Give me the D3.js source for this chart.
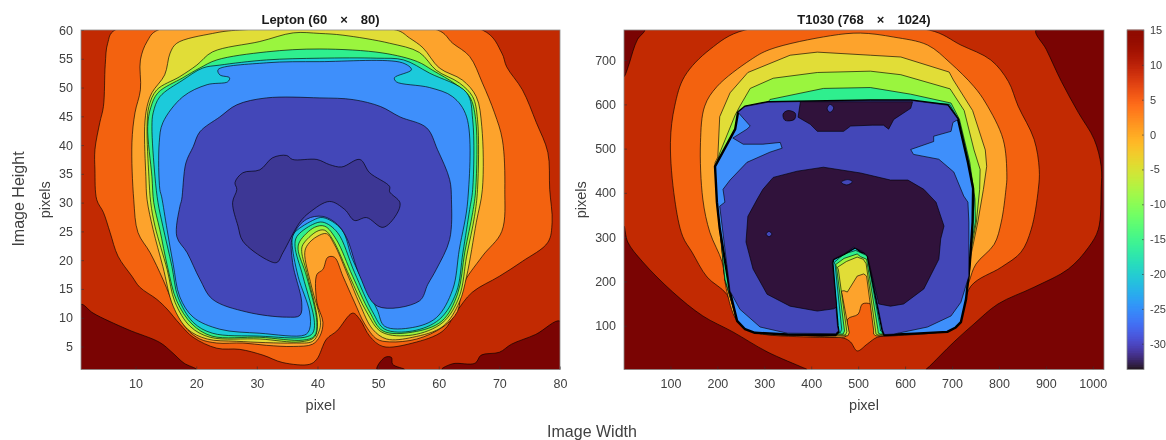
<!DOCTYPE html>
<html><head><meta charset="utf-8">
<script src="https://cdn.jsdelivr.net/npm/d3@7"></script>
<style>html,body{margin:0;padding:0;background:#fff;overflow:hidden}svg{display:block;font-family:"Liberation Sans",Arial,sans-serif;filter:blur(0.45px)}</style>
</head><body><svg id="c" width="1166" height="440"></svg>
<script>
const colorRed="#c22a02",colorDark="#7a0403",colorOrange="#f3620f",colorLightOrange="#fda32c",colorYellow="#e1dd37",colorLime="#9af53e",colorMint="#2fef8e",colorCyan="#1ccadb",colorBlue="#3e8ffb",colorIndigo="#4347b8",colorDeepIndigo="#3d3795",colorDarkest="#30123b";
const xTicksLeft=[10,20,30,40,50,60,70,80], yTicksLeft=[5,10,15,20,25,30,35,40,45,50,55,60];
const xTicksRight=[100,200,300,400,500,600,700,800,900,1000], yTicksRight=[100,200,300,400,500,600,700];
const barTicks=[-30,-25,-20,-15,-10,-5,0,5,10,15];
const leftDarkA=[[1,12.3],[3,10.8],[8.6,8],[14,5.7],[16,4],[18,2.1],[20,1],[1,1]];
const leftDarkB=[[60.5,1],[62.3,2],[66,2.1],[67,3.5],[70,4],[72,5.4],[76,7.1],[80,9.4],[80,1]];
const leftDarkC=[[49.8,1],[51.1,3.1],[52.2,3.1],[52.4,1.9],[54.4,1]];
const leftOrange=[[6.6,60],[5.4,57.7],[5,54],[4.7,46.7],[4.1,43.9],[3.3,39.2],[3.3,35.7],[3.6,30.5],[4.7,28.3],[5.8,24.8],[7.1,20.7],[9.4,17.2],[10.7,15.3],[13.5,13.2],[15.2,11.5],[17.3,8.9],[19.5,6.6],[23.4,4.7],[27.2,4.5],[31,3.5],[34.3,2.2],[38.7,1.9],[39.9,2.8],[41.5,6.3],[43.2,7.7],[45.8,10.8],[47,9.7],[48.6,6.8],[50.8,5],[55.7,5.6],[60.7,7.7],[62.9,11],[65.5,14.4],[70,17.2],[73.8,19.8],[78,23.1],[78.7,26.6],[78.3,32.3],[78,38.7],[76.1,43.9],[73.8,49.6],[71.2,53.6],[70.4,56],[67.2,60]];
const leftLightOrange=[[13.7,60],[11.9,58],[10.8,54.8],[10.8,49.6],[9.9,45.6],[9.4,40.4],[9.7,30.5],[10.4,24.8],[12.4,21.3],[14.5,16.7],[16.8,11],[18.5,8],[20.6,6.3],[23.4,5.6],[27.7,5.6],[31.6,5.2],[36,5],[39.2,5.4],[40.4,6.8],[40.9,9.2],[39.9,12.7],[39.9,17.5],[40.9,18.4],[41.7,20.5],[42.8,20.5],[44.2,17.2],[46.1,12.7],[47.8,8.9],[49.8,6.3],[51.9,5.8],[56.4,6.3],[60.7,8.4],[63.1,11.1],[63.9,15.5],[67.2,20.7],[70.4,25],[70.9,32.3],[70.5,40.9],[69.2,45.6],[67.2,50.8],[65.1,55.4],[62.3,57.7],[59.8,60]];
const leftYellow=[[27.2,60],[22.7,59.4],[16.8,57.7],[15.7,56],[14.8,52.2],[12.7,49.1],[11.9,46.7],[11.5,43.2],[11.7,34.5],[11.9,30.5],[12.9,25.3],[14.5,18.9],[16.2,12],[18.6,8],[21.8,6.3],[26.7,5.9],[36,5.6],[39.2,5.9],[40.2,7.5],[40.5,9.2],[39,15.5],[37.9,21.3],[38.4,22.7],[39.9,24.1],[41.5,24.6],[42.8,22.7],[44.8,17.9],[47,12.3],[49.1,8],[51.4,6.3],[55.7,6.6],[60.7,8.5],[63.4,12.7],[64.6,17.2],[66.2,26.6],[67.2,32.3],[67.1,43.2],[66.2,48.4],[63.9,51.3],[60.1,53.4],[57.4,56.9],[55.2,58.6],[53,60]];
const leftLime=[[40.4,59.4],[36,59.5],[30.5,58],[22.7,56.2],[20.1,53.9],[17.3,51.9],[13.5,49.6],[12.2,46.7],[11.9,43.2],[12.2,34.5],[12.5,30],[13.2,25.9],[15.2,18.4],[16.5,12.7],[19,8.5],[22.3,6.6],[30.5,6.3],[37.1,5.8],[39.5,6.6],[40,9.2],[38.4,17.2],[37.4,21.5],[37.6,22.7],[39.9,25],[41.2,25.2],[42.5,23.6],[45.3,17.2],[48.1,11],[50.6,7.5],[55.7,7],[60.7,9.2],[63.4,13.7],[64.6,20.7],[65.9,27.6],[66.4,32.3],[66.4,44.4],[65.6,48.4],[63.4,50.8],[59.6,53],[56.8,56.1],[51.9,57.7],[44.2,59.1]];
const leftMint=[[40.4,56.7],[31.6,56.2],[23.4,54.8],[20.6,53.4],[17.8,51.7],[13.7,49.1],[12.5,46.5],[12,43.2],[12.7,34.5],[13,30],[14,25.3],[15.3,18.7],[16.8,12.9],[19.3,8.9],[22.6,6.8],[30.5,6.6],[37.6,6.1],[39.5,6.8],[39.9,9.2],[38.2,17.2],[36.8,21.9],[37.1,23.3],[39.5,25.7],[41.2,25.9],[43.1,23.6],[45.8,17.2],[48.6,11],[50.8,7.7],[55.7,7.5],[60.5,9.4],[63.1,14.1],[64.3,21.4],[65.6,28.3],[66.1,32.3],[66.1,44.4],[65.1,48.4],[62.9,50.5],[59,53],[56.5,54.5],[50.8,56]];
const leftCyan=[[40.4,55.1],[31.6,54.8],[23.9,53.9],[21.1,53.4],[17.8,51.3],[14,48.4],[12.9,45.6],[12.7,43.2],[13.2,34.5],[13.7,30],[14.5,25.9],[16,18.9],[17,13.6],[19.5,9.2],[22.7,7.3],[30.5,6.8],[37.9,6.6],[39.2,7.3],[39.5,9.2],[37.6,17.2],[36.3,22.4],[36.6,24.1],[39.2,26.2],[40.9,26.6],[43.3,24.8],[46.1,17.9],[49.1,11],[51.1,8],[55.7,7.7],[60.1,9.7],[62.9,14.4],[64,21.4],[65.1,28.8],[65.6,32.3],[65.6,44.4],[64.6,49.1],[58.5,52.5],[54.2,54.8],[49.8,55.1]];
const leftBlue=[[40.4,54.5],[31.6,54.3],[23.6,53.1],[23.9,52.2],[25.5,51.7],[25.2,51],[21.8,50.5],[17.8,48.4],[14.5,43.9],[13.9,40.4],[14,32.3],[14.3,31],[15.2,25.3],[16.2,19.3],[17.3,13.6],[19.5,10.1],[23.9,8],[30.5,7.3],[37.9,7],[38.7,8],[38.7,11],[36.8,17.2],[35.8,23.1],[36,24.5],[39.2,26.9],[40.9,27.4],[44,25.3],[45.8,20.1],[49.8,11.5],[51.1,8.5],[55.7,8.3],[59.6,10],[62.3,14.9],[63.4,21.9],[64.8,30.5],[64.6,44.9],[62.3,48.4],[58.5,50],[53,51],[52.7,51.7],[55.5,53.1],[54,54.3]];
const leftIndigo=[[40.4,48.2],[31.6,48.2],[26.7,47],[23.9,44.9],[20.6,42.3],[19.5,39.7],[18.3,36.9],[17.6,30.5],[17.3,29.3],[16.8,24.1],[18.5,21.3],[20.6,16.7],[22.7,13.2],[28.3,11],[34.9,10.1],[37.1,10.4],[37.4,12.7],[35.9,19.6],[35.9,24.1],[38.2,27.1],[40.9,27.6],[43.3,26.2],[44.8,23.9],[47,17.2],[49.9,12],[56.8,12.9],[58.2,15.8],[59.6,18.4],[61.8,23.6],[62.1,30.5],[61.8,34],[59.8,39.2],[58,43],[53.6,44.9],[50.4,46.7],[45.9,47.9]];
const leftDeepIndigo=[[32.6,37.8],[34.9,38.2],[35.9,37.5],[39.9,37.5],[42,36.6],[44,36.2],[47,37.5],[48.6,35.2],[51.9,32.8],[51.9,31.9],[53.6,30],[53,27.9],[50.8,25.7],[48.1,27.4],[46.1,26.9],[44.5,28.8],[42,30.2],[38.7,28.3],[37.1,26.6],[34.3,21.3],[33.3,19.6],[31.6,20.1],[27.7,23.3],[26.9,25.9],[26,30],[26.7,32.3],[26.4,33.5],[27.7,35.2],[30.5,35.7]];

const rightDarkA=[[1,768],[45,768],[30,747],[20,720],[13,695],[1,663]];
const rightDarkB=[[1,325],[9,289],[41,244],[105,176],[169,122],[233,86],[306,41],[383,5],[391,1],[1,1]];
const rightDarkC=[[879,768],[901,724],[933,652],[969,582],[1003,521],[1018,460],[1018,408],[1012,318],[991,277],[948,228],[875,187],[798,149],[747,104],[704,63],[651,7],[645,1],[1024,1],[1024,768]];
const rightOrange=[[259,768],[184,724],[130,663],[109,596],[100,514],[109,386],[126,302],[146,266],[178,210],[220,171],[242,111],[276,86],[398,74],[469,72],[484,63],[498,43],[520,59],[541,74],[576,77],[676,86],[712,99],[740,189],[805,232],[847,266],[869,318],[884,408],[886,453],[875,521],[841,596],[820,652],[783,700],[719,734],[651,768]];
const rightLightOrange=[[441,755],[312,724],[270,700],[199,640],[173,596],[164,514],[169,386],[184,311],[210,244],[219,183],[241,113],[276,86],[398,77],[469,74],[474,76],[479,84],[478,115],[500,126],[509,149],[526,149],[531,140],[537,90],[537,81],[543,79],[575,79],[676,88],[708,101],[736,198],[751,239],[790,284],[805,334],[815,408],[817,438],[809,521],[772,603],[747,640],[696,694],[648,734],[576,752],[505,761]];
const rightYellow=[[526,711],[413,718],[355,711],[265,672],[227,626],[205,572],[201,481],[195,468],[201,370],[216,205],[241,113],[276,88],[398,77],[462,77],[478,77],[481,84],[466,170],[464,178],[470,179],[477,176],[498,212],[512,217],[518,212],[533,90],[533,81],[538,77],[548,77],[676,88],[708,104],[736,205],[740,257],[755,334],[767,408],[774,460],[771,497],[744,586],[703,655],[694,673],[591,707]];
const rightLime=[[526,675],[413,672],[319,659],[270,636],[248,596],[238,576],[205,490],[199,468],[201,370],[216,205],[241,115],[276,90],[398,79],[450,79],[473,79],[476,86],[458,226],[456,232],[475,245],[498,255],[511,250],[517,240],[537,90],[538,81],[543,79],[676,90],[708,106],[735,210],[738,257],[752,334],[759,408],[760,453],[747,497],[726,586],[696,635],[591,667]];
const rightMint=[[526,638],[426,636],[312,611],[308,605],[259,595],[244,582],[238,544],[195,460],[199,379],[216,205],[241,117],[276,92],[398,81],[445,81],[468,81],[471,88],[454,232],[452,238],[470,252],[498,262],[505,256],[518,250],[542,92],[543,83],[548,81],[676,92],[708,108],[733,210],[736,257],[750,334],[749,386],[738,469],[716,566],[698,603],[612,623]];
const rightCyan=[[308,604],[259,595],[244,582],[238,544],[197,460],[200,379],[222,205],[246,120],[278,95],[398,83],[442,84],[462,84],[465,92],[451,238],[449,243],[470,262],[495,270],[519,258],[547,95],[548,88],[553,83],[676,95],[706,113],[730,210],[732,257],[744,334],[748,386],[736,469],[714,566],[695,600],[610,607]];
const rightBlue=[[259,595],[308,605],[526,609],[612,609],[691,598],[713,566],[734,469],[745,410],[744,334],[738,240],[730,160],[719,108],[708,96],[690,86],[620,82],[556,79],[552,90],[520,262],[505,268],[494,277],[470,262],[447,250],[445,242],[456,100],[458,86],[452,79],[350,80],[280,84],[259,92],[242,111],[227,176],[205,320],[199,379],[195,460],[238,544],[244,582]];
const rightIndigo=[[259,595],[308,605],[526,609],[612,609],[691,598],[713,566],[702,559],[698,539],[661,528],[661,516],[612,498],[618,487],[672,476],[704,447],[725,393],[734,379],[736,334],[736,212],[719,153],[698,122],[648,97],[576,81],[556,80],[552,90],[520,262],[505,268],[494,277],[470,262],[447,250],[445,242],[456,100],[458,88],[452,82],[349,83],[291,97],[248,137],[227,178],[205,370],[216,379],[212,408],[227,429],[263,469],[312,492],[338,501],[334,514],[297,510],[255,510],[233,524],[263,544],[270,551],[244,582]];
const rightDarkestTop=[[377,606],[616,606],[612,591],[576,566],[565,544],[554,553],[530,553],[484,551],[469,539],[413,539],[398,555],[372,571]];
const rightDarkestMain=[[426,458],[370,449],[319,435],[297,408],[285,386],[265,347],[261,289],[276,228],[306,171],[355,144],[413,133],[448,138],[454,142],[445,242],[447,250],[470,262],[490,277],[509,268],[520,257],[544,149],[569,144],[597,149],[640,183],[672,250],[676,296],[683,325],[666,379],[640,408],[606,429],[569,429],[505,445]];
const rightSpeckA=[[340,578],[350,586],[366,580],[364,566],[344,564]];
const rightSpeckB=[[434,590],[440,600],[448,592],[440,582]];
const rightSpeckC=[[464,424],[478,430],[488,425],[476,418]];
const rightSpeckD=[[304,307],[310,313],[316,307],[310,301]];

const svg=d3.select("#c");
const leftX=d3.scaleLinear().domain([1,80]).range([81,560]);
const leftY=d3.scaleLinear().domain([1,60]).range([369.5,30]);
const rightX=d3.scaleLinear().domain([1,1024]).range([624,1104]);
const rightY=d3.scaleLinear().domain([1,768]).range([369.5,30]);
const barY=d3.scaleLinear().domain([-33.7,15]).range([369.5,30]);

const leftLayers=[[leftDarkA,colorDark],[leftDarkB,colorDark],[leftDarkC,colorDark],[leftOrange,colorOrange],[leftLightOrange,colorLightOrange],[leftYellow,colorYellow],[leftLime,colorLime],[leftMint,colorMint],[leftCyan,colorCyan],[leftBlue,colorBlue],[leftIndigo,colorIndigo],[leftDeepIndigo,colorDeepIndigo]];
const rightLayers=[[rightDarkA,colorDark],[rightDarkB,colorDark],[rightDarkC,colorDark],[rightOrange,colorOrange],[rightLightOrange,colorLightOrange],[rightYellow,colorYellow,0,1],[rightLime,colorLime,0,1],[rightMint,colorMint,0,1],[rightCyan,colorCyan,0,1],[rightBlue,colorBlue,2.4,1],[rightIndigo,colorIndigo,0,1],[rightDarkestTop,colorDarkest,0,1],[rightDarkestMain,colorDarkest,0,1],[rightSpeckA,colorDarkest],[rightSpeckB,colorIndigo],[rightSpeckC,colorIndigo],[rightSpeckD,colorIndigo]];

function panel(id,x,y,layers,xT,yT,title,ylab,ylabX){
  const [x0,x1]=x.range(),[y1,y0]=y.range();
  svg.append("clipPath").attr("id",id).append("rect").attr("x",x0).attr("y",y0).attr("width",x1-x0).attr("height",y1-y0);
  const g=svg.append("g").attr("clip-path",`url(#${id})`);
  g.append("rect").attr("x",x(x.domain()[0])).attr("y",y(y.domain()[1])).attr("width",x1-x0).attr("height",y1-y0).attr("fill",colorRed);
  const smooth=d3.line().x(d=>x(d[0])).y(d=>y(d[1])).curve(d3.curveCatmullRomClosed.alpha(0.5));
  const sharp=d3.line().x(d=>x(d[0])).y(d=>y(d[1])).curve(d3.curveLinearClosed);
  g.selectAll("path").data(layers).join("path").attr("d",d=>(d[3]?sharp:smooth)(d[0])).attr("fill",d=>d[1])
    .attr("stroke","#000").attr("stroke-opacity",d=>d[2]?1:0.8).attr("stroke-width",d=>d[2]||0.8).attr("stroke-linejoin","round");
  const ax=svg.append("g").attr("transform",`translate(0,${y1})`).call(d3.axisBottom(x).tickValues(xT).tickSize(-3).tickPadding(10).tickFormat(d3.format("d")));
  const ay=svg.append("g").attr("transform",`translate(${x0},0)`).call(d3.axisLeft(y).tickValues(yT).tickSize(-3).tickPadding(8).tickFormat(d3.format("d")));
  [ax,ay].forEach(a=>{a.selectAll("text").attr("font-size",12.5).attr("fill","#404040").attr("font-family","inherit");
    a.selectAll("line").attr("stroke","#333").attr("stroke-width",.6);a.select(".domain").remove();});
  svg.append("rect").attr("x",x0).attr("y",y0).attr("width",x1-x0).attr("height",y1-y0).attr("fill","none").attr("stroke","#8a8a8a").attr("stroke-width",.8);
  svg.append("text").attr("x",(x0+x1)/2).attr("y",23.5).attr("text-anchor","middle").attr("font-size",13).attr("font-weight","bold").attr("fill","#1a1a1a").text(title);
  svg.append("text").attr("x",(x0+x1)/2).attr("y",410).attr("text-anchor","middle").attr("font-size",14.5).attr("fill","#404040").text("pixel");
  svg.append("text").attr("transform",`translate(${ylabX},${(y0+y1)/2}) rotate(-90)`).attr("text-anchor","middle").attr("font-size",14.5).attr("fill","#404040").text(ylab);
}
panel("cl",leftX,leftY,leftLayers,xTicksLeft,yTicksLeft,"Lepton (60\u2003×\u200380)","pixels",50);
panel("cr",rightX,rightY,rightLayers,xTicksRight,yTicksRight,"T1030 (768\u2003×\u20031024)","pixels",586);

const bar=svg.append("g");
const barVals=d3.range(-33.7,15,0.25);
bar.selectAll("rect").data(barVals).join("rect").attr("x",1127).attr("width",17).attr("y",d=>barY(d+0.25)).attr("height",d=>Math.min(barY(d)-barY(d+0.25)+1,369.5-barY(d+0.25)))
  .attr("fill",d=>d3.interpolateTurbo((d+33.7)/48.7));
const bx=svg.append("g").attr("transform","translate(1144,0)").call(d3.axisRight(barY).tickValues(barTicks).tickSize(-2).tickPadding(6).tickFormat(d=>String(d)));
bx.selectAll("text").attr("font-size",11).attr("fill","#404040").attr("font-family","inherit");
bx.selectAll("line").attr("stroke","#333").attr("stroke-width",.6);bx.select(".domain").remove();
svg.append("rect").attr("x",1127).attr("y",30).attr("width",17).attr("height",339.5).attr("fill","none").attr("stroke","#8a8a8a").attr("stroke-width",.8);

svg.append("text").attr("x",592).attr("y",437).attr("text-anchor","middle").attr("font-size",16).attr("fill","#404040").text("Image Width");
svg.append("text").attr("transform","translate(24,199) rotate(-90)").attr("text-anchor","middle").attr("font-size",16).attr("fill","#404040").text("Image Height");
</script></body></html>
